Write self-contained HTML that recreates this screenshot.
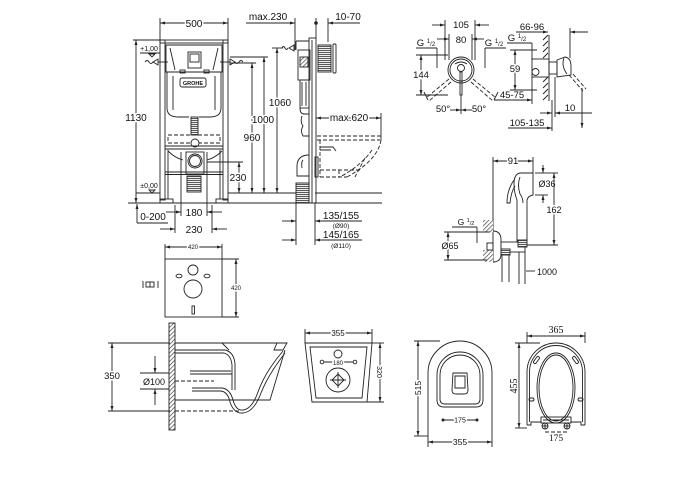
<!DOCTYPE html>
<html><head><meta charset="utf-8">
<style>
html,body{margin:0;padding:0;background:#fff;}
svg{display:block;}
.l{stroke:#222;stroke-width:0.9;fill:none;}
.t{font-family:"Liberation Sans",sans-serif;fill:#111;text-anchor:middle;}
.s{font-family:"Liberation Serif",serif;fill:#111;text-anchor:middle;}
.w{stroke:#fff;stroke-width:3;paint-order:stroke;stroke-linejoin:round;}
.d{stroke-dasharray:4 2;}
</style></head><body>
<svg width="700" height="500" viewBox="0 0 700 500" xmlns="http://www.w3.org/2000/svg">
<defs>
<marker id="a" viewBox="0 0 10 6" refX="10" refY="3" markerUnits="userSpaceOnUse" markerWidth="5" markerHeight="3" orient="auto-start-reverse"><path d="M0,0 L10,3 L0,6z" fill="#222"/></marker>
<pattern id="h" width="3" height="3" patternUnits="userSpaceOnUse" patternTransform="rotate(45)"><rect width="3" height="3" fill="#fff"/><line x1="0" y1="0" x2="0" y2="3" stroke="#444" stroke-width="1.4"/></pattern>
<pattern id="hz" width="2" height="2" patternUnits="userSpaceOnUse"><rect width="2" height="2" fill="#eee"/><line x1="0" y1="0.5" x2="2" y2="0.5" stroke="#333" stroke-width="0.8"/></pattern>
</defs>
<rect width="700" height="500" fill="#fff"/>

<!-- ============ FRAME FRONT VIEW ============ -->
<g class="l">
<line x1="160" y1="18" x2="160" y2="40"/><line x1="228" y1="18" x2="228" y2="40"/>
<line x1="160" y1="23" x2="228" y2="23" marker-start="url(#a)" marker-end="url(#a)"/>
<rect x="160" y="40" width="5" height="160"/><rect x="223" y="40" width="5" height="160"/>
<rect x="160" y="40" width="68" height="3"/>
<rect x="160" y="199" width="13" height="4"/><rect x="216" y="199" width="12" height="4"/>
<path d="M166,45 L222,45 L222,72 L166,72 Z"/>
<path d="M170,48 L175,70 M218,48 L213,70"/>
<path d="M167,72 L167,108 Q167,117 178,117 L189,117 M221,72 L221,108 Q221,117 210,117 L199,117"/>
<path d="M173,76 L173,110 M215,76 L215,110"/>
<rect x="180" y="70" width="5" height="3"/><rect x="204" y="70" width="5" height="3"/>
<rect x="188" y="52" width="13" height="16"/><rect x="190" y="54" width="9" height="8"/>
<rect x="180" y="78" width="26" height="9" rx="2"/>
<path d="M145,62 q2,-3 4,0 t4,0"/><path d="M153,62 l5,-3 l0,6 z"/><line x1="158" y1="62" x2="168" y2="62"/>
<path d="M243,62 q-2,-3 -4,0 t-4,0"/><path d="M235,62 l-5,-3 l0,6 z"/><line x1="230" y1="62" x2="220" y2="62"/>
<rect x="191" y="117" width="7" height="18" fill="url(#hz)"/>
<rect x="168" y="135" width="52" height="8" class="l d"/>
<circle cx="195" cy="143" r="4" fill="#fff"/>
<line x1="165" y1="146" x2="223" y2="146"/><line x1="165" y1="149" x2="223" y2="149"/>
<path d="M168,151 Q175,158 183,160 M222,151 Q215,158 207,160"/>
<rect x="186" y="152" width="18" height="22" fill="#fff"/>
<circle cx="195" cy="161" r="7" fill="#fff"/><circle cx="195" cy="161" r="5.5"/>
<line x1="165" y1="172" x2="223" y2="172"/><line x1="165" y1="174.5" x2="223" y2="174.5"/>
<rect x="187" y="176" width="14" height="16" fill="url(#hz)"/>
<line x1="168" y1="150" x2="168" y2="199"/><line x1="220" y1="150" x2="220" y2="199"/>
<line x1="181" y1="152" x2="181" y2="216"/><line x1="207" y1="152" x2="207" y2="216"/>
<line x1="175" y1="205" x2="175" y2="233"/><line x1="212" y1="205" x2="212" y2="233"/>
<line x1="166" y1="212" x2="181" y2="212" marker-end="url(#a)"/><line x1="222" y1="212" x2="207" y2="212" marker-end="url(#a)"/>
<line x1="160" y1="229" x2="175" y2="229" marker-end="url(#a)"/><line x1="227" y1="229" x2="212" y2="229" marker-end="url(#a)"/>
<line x1="133" y1="40" x2="160" y2="40"/>
<line x1="136" y1="40" x2="136" y2="203" marker-start="url(#a)" marker-end="url(#a)"/>
<line x1="140" y1="53" x2="160" y2="53"/><path d="M149,54 L155,54 L152,57 Z"/>
<path d="M149,190 L155,190 L152,193 Z"/>
<line x1="128" y1="203" x2="382" y2="203"/>
<line x1="136" y1="193" x2="160" y2="193"/>
<line x1="228" y1="193" x2="296" y2="193"/>
<line x1="315" y1="193" x2="382" y2="193"/>
<line x1="137" y1="223" x2="137" y2="204" marker-end="url(#a)"/>
<line x1="137" y1="223" x2="168" y2="223"/>
<line x1="230" y1="63" x2="256" y2="63"/><line x1="252" y1="63" x2="252" y2="193" marker-start="url(#a)" marker-end="url(#a)"/>
<line x1="230" y1="57" x2="268" y2="57"/><line x1="264" y1="57" x2="264" y2="193" marker-start="url(#a)" marker-end="url(#a)"/>
<line x1="272" y1="48" x2="283" y2="48"/><line x1="277" y1="48" x2="277" y2="193" marker-start="url(#a)" marker-end="url(#a)"/>
<line x1="207" y1="162" x2="243" y2="162"/><line x1="239" y1="162" x2="239" y2="193" marker-start="url(#a)" marker-end="url(#a)"/>
</g>
<text class="t w" x="194" y="27" font-size="10">500</text>
<text class="t w" x="136" y="121" font-size="10">1130</text>
<text class="t" x="149" y="51" font-size="7">+1,00</text>
<text class="t" x="149" y="188" font-size="7">±0,00</text>
<text class="t" x="153" y="220" font-size="10">0-200</text>
<text class="t" x="194" y="216" font-size="10">180</text>
<text class="t" x="194" y="233" font-size="10">230</text>
<text class="t w" x="252" y="141" font-size="10">960</text>
<text class="t w" x="263" y="123" font-size="10">1000</text>
<text class="t w" x="280" y="106" font-size="10">1060</text>
<text class="t w" x="238" y="181" font-size="10">230</text>
<text class="t" x="193" y="85" font-size="5.5" font-weight="bold">GROHE</text>

<!-- ============ FRAME SIDE VIEW ============ -->
<g class="l">
<line x1="246" y1="23" x2="295" y2="23" marker-end="url(#a)"/>
<line x1="295" y1="18" x2="295" y2="50"/>
<line x1="360" y1="23" x2="328" y2="23" marker-end="url(#a)"/>
<line x1="328" y1="18" x2="328" y2="42"/>
<line x1="316" y1="18" x2="316" y2="38"/>
<rect x="309" y="38" width="7" height="165"/>
<line x1="312" y1="40" x2="312" y2="203"/>
<path d="M296,41 L309,41 M296,41 L296,50"/>
<path d="M282,48 q1.5,-3 3,0 t3,0"/><path d="M289,48 l5,-3 l0,6 z"/>
<rect x="318" y="45" width="13" height="27" fill="url(#hz)"/>
<rect x="333" y="44" width="3" height="29" rx="1"/>
<rect x="298" y="50" width="12" height="30"/>
<rect x="300" y="57" width="8" height="10" fill="url(#h)"/>
<rect x="300" y="80" width="9" height="28"/>
<path d="M302,82 L302,106 M306,82 L306,106"/>
<path d="M300,108 Q300,114 304,114 L309,114"/>
<path d="M302,116 Q300,122 303,126 Q300,131 303,136 L309,136"/>
<path d="M309,155 Q298,155 297,165 L297,176 L309,176"/>
<path d="M303,160 Q301,162 302,168"/>
<rect x="315" y="157" width="3" height="20"/>
<rect x="296" y="183" width="13" height="20" fill="url(#hz)"/>
<line x1="316" y1="118" x2="381" y2="118" marker-start="url(#a)" marker-end="url(#a)"/>
<line x1="381" y1="113" x2="381" y2="140"/>
<g class="l d">
<line x1="317" y1="136" x2="382" y2="136"/><line x1="317" y1="140" x2="380" y2="140"/>
<path d="M381,140 Q378,160 347,177"/>
<path d="M372,150 Q362,165 340,177"/>
<path d="M365,158 L355,177"/>
<line x1="320" y1="170" x2="360" y2="170"/><line x1="320" y1="177" x2="347" y2="177"/>
<line x1="320" y1="140" x2="320" y2="177"/>
<line x1="339" y1="170" x2="339" y2="177"/>
</g>
<path d="M320,147 L333,147 L336,151 M320,150 L331,150"/>
<line x1="296" y1="203" x2="296" y2="245"/><line x1="315" y1="203" x2="315" y2="245"/>
<line x1="282" y1="221" x2="296" y2="221" marker-end="url(#a)"/><line x1="328" y1="221" x2="315" y2="221" marker-end="url(#a)"/>
<line x1="282" y1="240" x2="296" y2="240" marker-end="url(#a)"/><line x1="328" y1="240" x2="315" y2="240" marker-end="url(#a)"/>
<line x1="315" y1="221" x2="362" y2="221"/><line x1="315" y1="240" x2="362" y2="240"/>
</g>
<circle cx="316" cy="23" r="1.8" fill="#222"/>
<text class="t" x="268" y="20" font-size="10">max.230</text>
<text class="t" x="348" y="20" font-size="10">10-70</text>
<text class="t w" x="349" y="121" font-size="10">max.620</text>
<text class="t" x="341" y="219" font-size="10">135/155</text>
<text class="t" x="341" y="228" font-size="6.5">(Ø90)</text>
<text class="t" x="341" y="238" font-size="10">145/165</text>
<text class="t" x="341" y="248" font-size="6.5">(Ø110)</text>

<!-- ============ FAUCET ============ -->
<g class="l">
<line x1="445" y1="20" x2="445" y2="60"/><line x1="475" y1="20" x2="475" y2="60"/>
<line x1="432" y1="25" x2="445" y2="25" marker-end="url(#a)"/><line x1="489" y1="25" x2="475" y2="25" marker-end="url(#a)"/>
<line x1="449" y1="34" x2="449" y2="60"/><line x1="472" y1="34" x2="472" y2="60"/>
<line x1="437" y1="39" x2="449" y2="39" marker-end="url(#a)"/><line x1="484" y1="39" x2="472" y2="39" marker-end="url(#a)"/>
<line x1="416" y1="48" x2="437" y2="48"/><line x1="437" y1="48" x2="437" y2="68"/>
<line x1="485" y1="48" x2="506" y2="48"/><line x1="485" y1="48" x2="485" y2="68"/>
<circle cx="461" cy="70" r="13" fill="#fff"/><circle cx="461" cy="70" r="11"/>
<circle cx="461" cy="68" r="3.5"/><path d="M455,64 Q461,60 467,64"/>
<rect x="460" y="72" width="2" height="23"/>
<line x1="416" y1="55" x2="448" y2="55"/><line x1="416" y1="95" x2="448" y2="95"/>
<line x1="421" y1="55" x2="421" y2="95" marker-start="url(#a)" marker-end="url(#a)"/>
<g class="d"><path d="M449,79 L426,98 M451,82 L429,101 M473,79 L496,98 M471,82 L493,101"/></g>
<path d="M424,92 L428,100 M498,92 L494,100"/>
<line x1="461" y1="95" x2="461" y2="114"/>
<line x1="450" y1="110" x2="461" y2="110" marker-end="url(#a)"/><line x1="472" y1="110" x2="461" y2="110" marker-end="url(#a)"/>
<line x1="516" y1="32" x2="548" y2="32" marker-end="url(#a)"/>
<line x1="588" y1="32" x2="570" y2="32" marker-end="url(#a)"/>
<line x1="570" y1="28" x2="570" y2="58"/>
<line x1="549" y1="35" x2="549" y2="101"/>
<path d="M543,40 l5,-5 M543,46 l5,-5 M543,52 l5,-5 M543,58 l5,-5 M543,82 l5,-5 M543,88 l5,-5 M543,94 l5,-5 M543,100 l5,-5"/>
<line x1="507" y1="43" x2="532" y2="43"/><line x1="532" y1="43" x2="532" y2="60"/>
<line x1="510" y1="50" x2="537" y2="50"/><line x1="510" y1="90" x2="537" y2="90"/>
<line x1="515" y1="50" x2="515" y2="90" marker-start="url(#a)" marker-end="url(#a)"/>
<rect x="532" y="59" width="17" height="18" fill="#fff"/>
<circle cx="535.5" cy="72" r="3.5"/>
<rect x="549" y="62" width="8" height="12"/>
<path d="M557,60 L565,57 Q571,58 571,66 L571,75 L557,77 Z"/>
<path d="M564,58 Q561,66 567,74"/>
<g class="d"><path d="M569,75 L583,91 M573,74 L586,89"/></g>
<line x1="494" y1="100" x2="532" y2="100" marker-end="url(#a)"/>
<line x1="532" y1="77" x2="532" y2="104"/>
<line x1="555" y1="77" x2="555" y2="117"/><line x1="552" y1="100" x2="552" y2="131"/>
<line x1="540" y1="113" x2="552" y2="113" marker-end="url(#a)"/>
<line x1="592" y1="113" x2="555" y2="113" marker-end="url(#a)"/>
<line x1="508" y1="128" x2="552" y2="128" marker-end="url(#a)"/>
<line x1="582" y1="88" x2="582" y2="128" marker-end="url(#a)"/>
</g>
<text class="t" x="461" y="28" font-size="9.5">105</text>
<text class="t" x="461" y="43" font-size="9.5">80</text>
<text class="t" x="426" y="46" font-size="9.5">G <tspan font-size="6" dy="-3">1</tspan><tspan font-size="6" dy="3">/2</tspan></text>
<text class="t" x="494" y="46" font-size="9.5">G <tspan font-size="6" dy="-3">1</tspan><tspan font-size="6" dy="3">/2</tspan></text>
<text class="t w" x="421" y="78" font-size="9.5">144</text>
<text class="t" x="443" y="112" font-size="9.5">50°</text>
<text class="t" x="479" y="112" font-size="9.5">50°</text>
<text class="t" x="532" y="30" font-size="9.5">66-96</text>
<text class="t" x="517" y="41" font-size="9.5">G <tspan font-size="6" dy="-3">1</tspan><tspan font-size="6" dy="3">/2</tspan></text>
<text class="t w" x="515" y="72" font-size="9.5">59</text>
<text class="t" x="512" y="98" font-size="9.5">45-75</text>
<text class="t" x="570" y="111" font-size="9.5">10</text>
<text class="t" x="527" y="126" font-size="9.5">105-135</text>

<!-- ============ BIDET SPRAY ============ -->
<g class="l">
<line x1="493" y1="157" x2="493" y2="262"/><line x1="533" y1="157" x2="533" y2="173"/>
<line x1="493" y1="161" x2="533" y2="161" marker-start="url(#a)" marker-end="url(#a)"/>
<path d="M520,173 L533,173 L533,195 Q528,196 527,200 L527,241 L517,241 L517,200 Q514,192 514,184 Q514,174 520,173 Z"/>
<path d="M520,177 Q517,185 520,194 Q523,198 523,203"/>
<path d="M514,180 Q507,190 507,203 L510,203 Q511,192 515,186"/>
<line x1="535" y1="173" x2="548" y2="173"/><line x1="535" y1="195" x2="548" y2="195"/>
<line x1="543" y1="165" x2="543" y2="173" marker-end="url(#a)"/><line x1="543" y1="203" x2="543" y2="195" marker-end="url(#a)"/>
<line x1="548" y1="173" x2="558" y2="173"/><line x1="527" y1="245" x2="558" y2="245"/>
<line x1="554" y1="173" x2="554" y2="245" marker-start="url(#a)" marker-end="url(#a)"/>
<rect x="483" y="220" width="10" height="12" fill="url(#h)" stroke="none"/>
<rect x="483" y="250" width="10" height="12" fill="url(#h)" stroke="none"/>
<path d="M493,231 Q501,231 501,240 L501,254 Q501,262 493,262"/>
<rect x="487" y="243" width="6" height="7"/>
<rect x="501" y="242" width="24" height="10" fill="#fff"/>
<rect x="501" y="249" width="9" height="6" fill="url(#hz)"/>
<rect x="518" y="240" width="9" height="7" fill="url(#hz)"/>
<path d="M502,255 L502,282 M509,255 L509,282 M519,252 L519,284 M525,252 L525,284"/>
<line x1="452" y1="227" x2="477" y2="227"/><line x1="477" y1="227" x2="477" y2="243"/>
<line x1="444" y1="232" x2="490" y2="232"/><line x1="444" y1="260" x2="487" y2="260"/>
<line x1="448" y1="232" x2="448" y2="260" marker-start="url(#a)" marker-end="url(#a)"/>
<line x1="526" y1="271" x2="535" y2="271"/>
</g>
<text class="t w" x="513" y="164" font-size="9.5">91</text>
<text class="t" x="547" y="187" font-size="9">Ø36</text>
<text class="t w" x="554" y="213" font-size="9">162</text>
<text class="t" x="466" y="225" font-size="8.5">G <tspan font-size="5.5" dy="-3">1</tspan><tspan font-size="5.5" dy="3">/2</tspan></text>
<text class="t w" x="450" y="249" font-size="9">Ø65</text>
<text class="t" x="547" y="275" font-size="9">1000</text>

<!-- ============ GASKET ============ -->
<g class="l" stroke-width="0.75">
<line x1="165" y1="244" x2="165" y2="259"/><line x1="222" y1="244" x2="222" y2="259"/>
<line x1="165" y1="247" x2="222" y2="247" marker-start="url(#a)" marker-end="url(#a)"/>
<rect x="165" y="259" width="57" height="58"/>
<circle cx="193" cy="270" r="5"/>
<ellipse cx="179" cy="276" rx="3" ry="1.8"/><ellipse cx="207" cy="276" rx="3" ry="1.8"/>
<circle cx="193" cy="289" r="9"/>
<rect x="192" y="306" width="2.5" height="8"/>
<line x1="222" y1="259" x2="239" y2="259"/><line x1="222" y1="317" x2="239" y2="317"/>
<line x1="236" y1="259" x2="236" y2="317" marker-start="url(#a)" marker-end="url(#a)"/>
<line x1="143" y1="281" x2="143" y2="288"/><rect x="146" y="282" width="8" height="5"/>
<line x1="150" y1="282" x2="150" y2="287"/><line x1="158" y1="281" x2="158" y2="288"/>
</g>
<text class="t w" x="193" y="249" font-size="6">420</text>
<text class="t w" x="236" y="290" font-size="6">420</text>

<!-- ============ TOILET SIDE ============ -->
<g class="l">
<rect x="169" y="323" width="6" height="107" fill="url(#h)"/>
<line x1="108" y1="343" x2="170" y2="343"/><line x1="108" y1="411" x2="170" y2="411"/>
<line x1="112" y1="343" x2="112" y2="411" marker-start="url(#a)" marker-end="url(#a)"/>
<line x1="140" y1="373" x2="169" y2="373"/><line x1="140" y1="389" x2="169" y2="389"/>
<line x1="155" y1="356" x2="155" y2="373" marker-end="url(#a)"/>
<line x1="155" y1="405" x2="155" y2="389" marker-end="url(#a)"/>
<line x1="175" y1="343" x2="287" y2="343"/>
<path d="M277,343 L287,343 L283,350 L274,350 Z"/>
<path d="M285,350 L270,400 L175,400"/>
<path d="M222,343 L229,350"/>
<path d="M175,350 L225,350 Q234,352 235,364 L235,390"/>
<path d="M175,353 L224,353 Q231,355 232,365 L232,390"/>
<path d="M190,371 L231,371 M190,374 L232,374"/>
<path d="M192,388 L222,388 Q230,389 233,400 Q236,411 243,410 Q252,409 258,392 Q265,372 283,351"/>
<path d="M192,391 L221,391 Q228,392 230,402 Q234,414 243,413 Q254,412 261,393 Q268,375 285,353"/>
<line class="d" x1="175" y1="381" x2="214" y2="381"/>
<line class="d" x1="175" y1="411" x2="240" y2="411"/>
</g>
<text class="t w" x="112" y="379" font-size="9.5">350</text>
<text class="t w" x="154" y="385" font-size="9">Ø100</text>

<!-- ============ TOILET FRONT ============ -->
<g class="l">
<line x1="305" y1="329" x2="305" y2="343"/><line x1="372" y1="329" x2="372" y2="343"/>
<line x1="305" y1="333" x2="372" y2="333" marker-start="url(#a)" marker-end="url(#a)"/>
<path d="M305,343 L372,343 L367,402 L312,402 Z"/>
<path d="M310,347 L367,347 L362,398 L316,398 Z"/>
<circle cx="338" cy="354" r="4"/>
<circle cx="322" cy="362" r="1.8"/><circle cx="355" cy="362" r="1.8"/>
<line x1="324" y1="362" x2="353" y2="362"/>
<circle cx="338" cy="380" r="12"/>
<path d="M338,374 L344,380 L338,386 L332,380 Z"/>
<path d="M338,372 L338,388 M330,380 L346,380"/>
<line x1="372" y1="343" x2="384" y2="343"/><line x1="367" y1="402" x2="384" y2="402"/>
<line x1="380" y1="343" x2="380" y2="402" marker-start="url(#a)" marker-end="url(#a)"/>
</g>
<text class="t w" x="338" y="336" font-size="8">355</text>
<text class="t w" x="338" y="365" font-size="6">180</text>
<text class="t w" x="0" y="0" font-size="7" transform="translate(377,372) rotate(90)">320</text>

<!-- ============ TOILET TOP ============ -->
<g class="l">
<path d="M428,436 L428,373 A32,32 0 0 1 492,373 L492,436"/>
<path d="M437,400 L437,375 A23,23 0 0 1 483,375 L483,400 Q483,407 476,407 L444,407 Q437,407 437,400 Z"/>
<path d="M440,399 L440,375 A20,20 0 0 1 480,375 L480,399 Q480,404 475,404 L445,404 Q440,404 440,399 Z"/>
<path d="M453,373 L467,373 L468,390 Q468,394 464,394 L456,394 Q452,394 452,390 Z"/>
<path d="M455,376 L465,376 L465,388 L455,388 Z"/>
<line x1="443" y1="420" x2="477" y2="420"/>
<line x1="414" y1="341" x2="440" y2="341"/><line x1="414" y1="436" x2="428" y2="436"/>
<line x1="418" y1="341" x2="418" y2="436" marker-start="url(#a)" marker-end="url(#a)"/>
<line x1="428" y1="436" x2="428" y2="447"/><line x1="492" y1="436" x2="492" y2="447"/>
<line x1="428" y1="442" x2="492" y2="442" marker-start="url(#a)" marker-end="url(#a)"/>
</g>
<circle cx="443" cy="420" r="1.5" fill="#222"/><circle cx="477" cy="420" r="1.5" fill="#222"/>
<text class="t w" x="460" y="422.5" font-size="7">175</text>
<text class="t w" x="0" y="0" font-size="8.5" transform="translate(421,388) rotate(-90)">515</text>
<text class="t w" x="460" y="445" font-size="8.5">355</text>

<!-- ============ SEAT ============ -->
<g class="l">
<line x1="527" y1="332" x2="527" y2="343"/><line x1="585" y1="332" x2="585" y2="343"/>
<line x1="527" y1="336" x2="585" y2="336" marker-start="url(#a)" marker-end="url(#a)"/>
<line x1="515" y1="343" x2="540" y2="343"/><line x1="515" y1="428" x2="527" y2="428"/>
<line x1="519" y1="343" x2="519" y2="428" marker-start="url(#a)" marker-end="url(#a)"/>
<path d="M527,425 L527,372 A29,29 0 0 1 585,372 L585,425"/>
<path d="M529.5,422 L529.5,372 A26.5,26.5 0 0 1 582.5,372 L582.5,422"/>
<path d="M527,425 L531,425 L531,422 L541,422 M585,425 L581,425 L581,422 L571,422"/>
<ellipse cx="556" cy="388" rx="19" ry="35"/>
<ellipse cx="556" cy="388" rx="17" ry="33"/>
<rect x="535" y="356" width="3" height="8" rx="1.5" transform="rotate(35 536.5 360)"/>
<rect x="574" y="356" width="3" height="8" rx="1.5" transform="rotate(-35 575.5 360)"/>
<rect x="529" y="398" width="5" height="3" rx="1.5"/>
<rect x="578" y="398" width="5" height="3" rx="1.5"/>
<rect x="541" y="417" width="30" height="6"/>
<line x1="543" y1="420" x2="569" y2="420"/>
<circle cx="545" cy="426" r="3" fill="#fff"/><circle cx="567" cy="426" r="3" fill="#fff"/>
<path d="M542,426 L548,426 M545,423 L545,429 M564,426 L570,426 M567,423 L567,429"/>
<line class="d" x1="545" y1="432" x2="567" y2="432" stroke-dasharray="1.5 1.5"/>
</g>
<text class="s" x="556" y="333" font-size="10">365</text>
<text class="s w" x="0" y="0" font-size="10" transform="translate(517,386) rotate(-90)">455</text>
<text class="s" x="556" y="441" font-size="9.5">175</text>
</svg>
</body></html>
